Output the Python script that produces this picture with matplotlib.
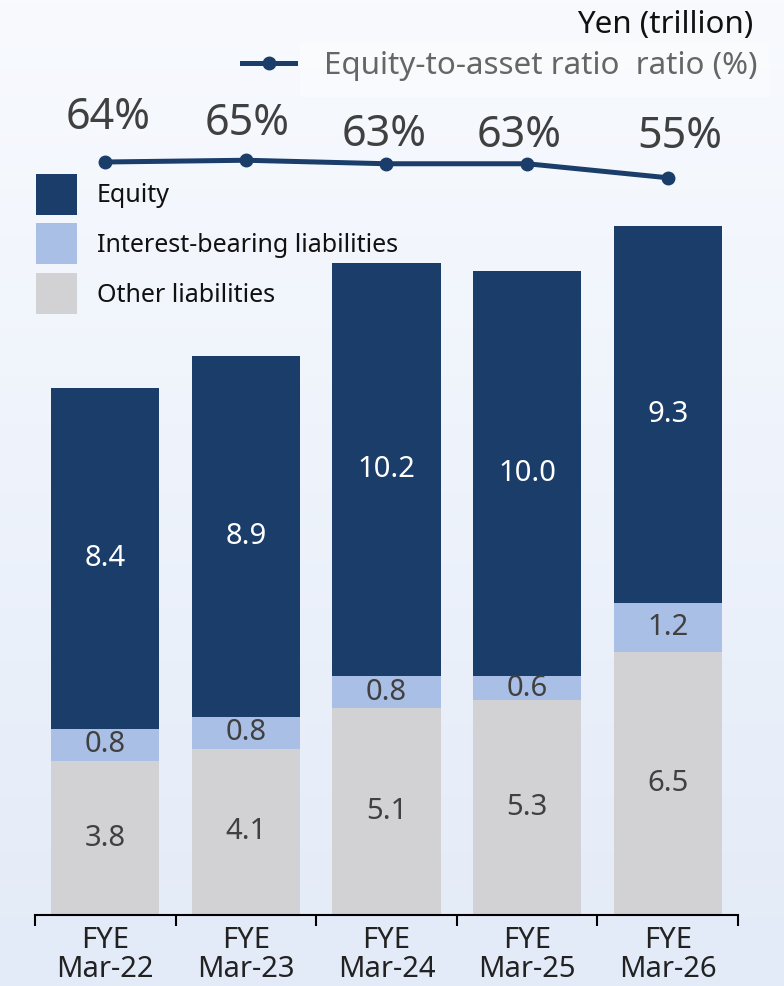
import numpy as np
import matplotlib
matplotlib.use('Agg')
from matplotlib import pyplot as plt
from matplotlib.patches import Rectangle
from matplotlib.lines import Line2D

plt.rcParams['font.family'] = ['Noto Sans', 'DejaVu Sans']

years = ['FYE\nMar-22', 'FYE\nMar-23', 'FYE\nMar-24', 'FYE\nMar-25', 'FYE\nMar-26']
other = [3.8, 4.1, 5.1, 5.3, 6.5]
interest = [0.8, 0.8, 0.8, 0.6, 1.2]
equity = [8.4, 8.9, 10.2, 10.0, 9.3]
ratio = [64, 65, 63, 63, 55]
series_names = ['Equity', 'Interest-bearing liabilities', 'Other liabilities']

c_eq = '#1b3d6a'
c_ib = '#aabfe5'
c_ot = '#d2d2d4'

W, H = 784, 986
fig = plt.figure(figsize=(W/100, H/100), dpi=100)

# background gradient
bg = fig.add_axes([0, 0, 1, 1], zorder=-10)
top = np.array([248, 250, 254]) / 255
bot = np.array([227, 235, 248]) / 255
t = np.linspace(0, 1, 256)[:, None]
grad = top + (bot - top) * t
bg.imshow(grad[:, None, :].repeat(2, axis=1), aspect='auto', extent=[0, 1, 0, 1])
bg.add_patch(Rectangle((300/W, 1-97/H), 470/W, 55/H, facecolor='white', alpha=0.4, lw=0))
bg.set_xlim(0, 1); bg.set_ylim(0, 1)
bg.axis('off')

ax = fig.add_axes([35/W, (H-915)/H, 703/W, 915/H])
ax.patch.set_alpha(0)
x = np.arange(len(years))
px_per_unit = 40.5
ax.set_ylim(0, 915/px_per_unit)
ax.set_xlim(-0.5, len(years)-0.5)

bw = 0.77
ax.bar(x, other, bw, color=c_ot)
ax.bar(x, interest, bw, bottom=other, color=c_ib)
eq_bottom = np.array(other) + np.array(interest)
ax.bar(x, equity, bw, bottom=eq_bottom, color=c_eq)

for i in range(len(x)):
    ax.text(x[i], other[i]/2, '{:.1f}'.format(other[i]), ha='center', va='center',
            fontsize=21, color='#404040')
    ax.text(x[i], other[i] + interest[i]/2, '{:.1f}'.format(interest[i]), ha='center',
            va='center', fontsize=21, color='#404040')
    ax.text(x[i], eq_bottom[i] + equity[i]/2, '{:.1f}'.format(equity[i]), ha='center',
            va='center', fontsize=21, color='white')

for s in ['top', 'right', 'left']:
    ax.spines[s].set_visible(False)
ax.spines['bottom'].set_linewidth(1.5)
ax.set_yticks([])
ax.set_xticks(x)
ax.set_xticklabels(years, fontsize=21, color='#222222', linespacing=1.0)
ax.tick_params(axis='x', which='major', length=0, pad=8)
ax.set_xticks(np.arange(len(years)+1) - 0.5, minor=True)
ax.tick_params(axis='x', which='minor', length=8, width=1.5, direction='out')

# ratio line
ax2 = ax.twinx()
slope = 1.75
base_px = 915 - 162
ax2.set_ylim(64 - base_px/slope, 64 + (915-base_px)/slope)
ax2.plot(x, ratio, color=c_eq, lw=3.6, marker='o', ms=9)
# label offsets in points (the source places them unevenly)
lab_dx = [2, 1, -2, -6, 9]
lab_dy = [32, 26, 21, 20, 29]
for i in range(len(x)):
    ax2.annotate('{}%'.format(ratio[i]), (x[i], ratio[i]), xytext=(lab_dx[i], lab_dy[i]),
                 textcoords='offset points', ha='center', va='center',
                 fontsize=31, color='#404040')
ax2.set_yticks([])
for s in ['top', 'right', 'left', 'bottom']:
    ax2.spines[s].set_visible(False)

# legend for the bars, squares 41 px
colors = [c_eq, c_ib, c_ot]
tops = [174, 223, 273]
for name, col, ty in zip(series_names, colors, tops):
    fig.patches.append(Rectangle((36/W, 1-(ty+41)/H), 41/W, 41/H, facecolor=col,
                                 lw=0, transform=fig.transFigure, figure=fig))
    fig.text(97/W, 1-(ty+22)/H, name, ha='left', va='center', fontsize=18,
             color='#111111')

line_h = Line2D([], [], color=c_eq, lw=3.6, marker='o', ms=9)
fig.legend(handles=[line_h], labels=['Equity-to-asset ratio  ratio (%)'],
           loc='center right', bbox_to_anchor=(757/W, 1-66/H), frameon=False,
           fontsize=22.5, labelcolor='#666666', handlelength=1.7, handletextpad=0.9,
           borderpad=0, borderaxespad=0)

fig.text(753/W, 1-25/H, 'Yen (trillion)', ha='right', va='center', fontsize=22.5,
         color='#111111')

plt.savefig('out.png', dpi=100)
